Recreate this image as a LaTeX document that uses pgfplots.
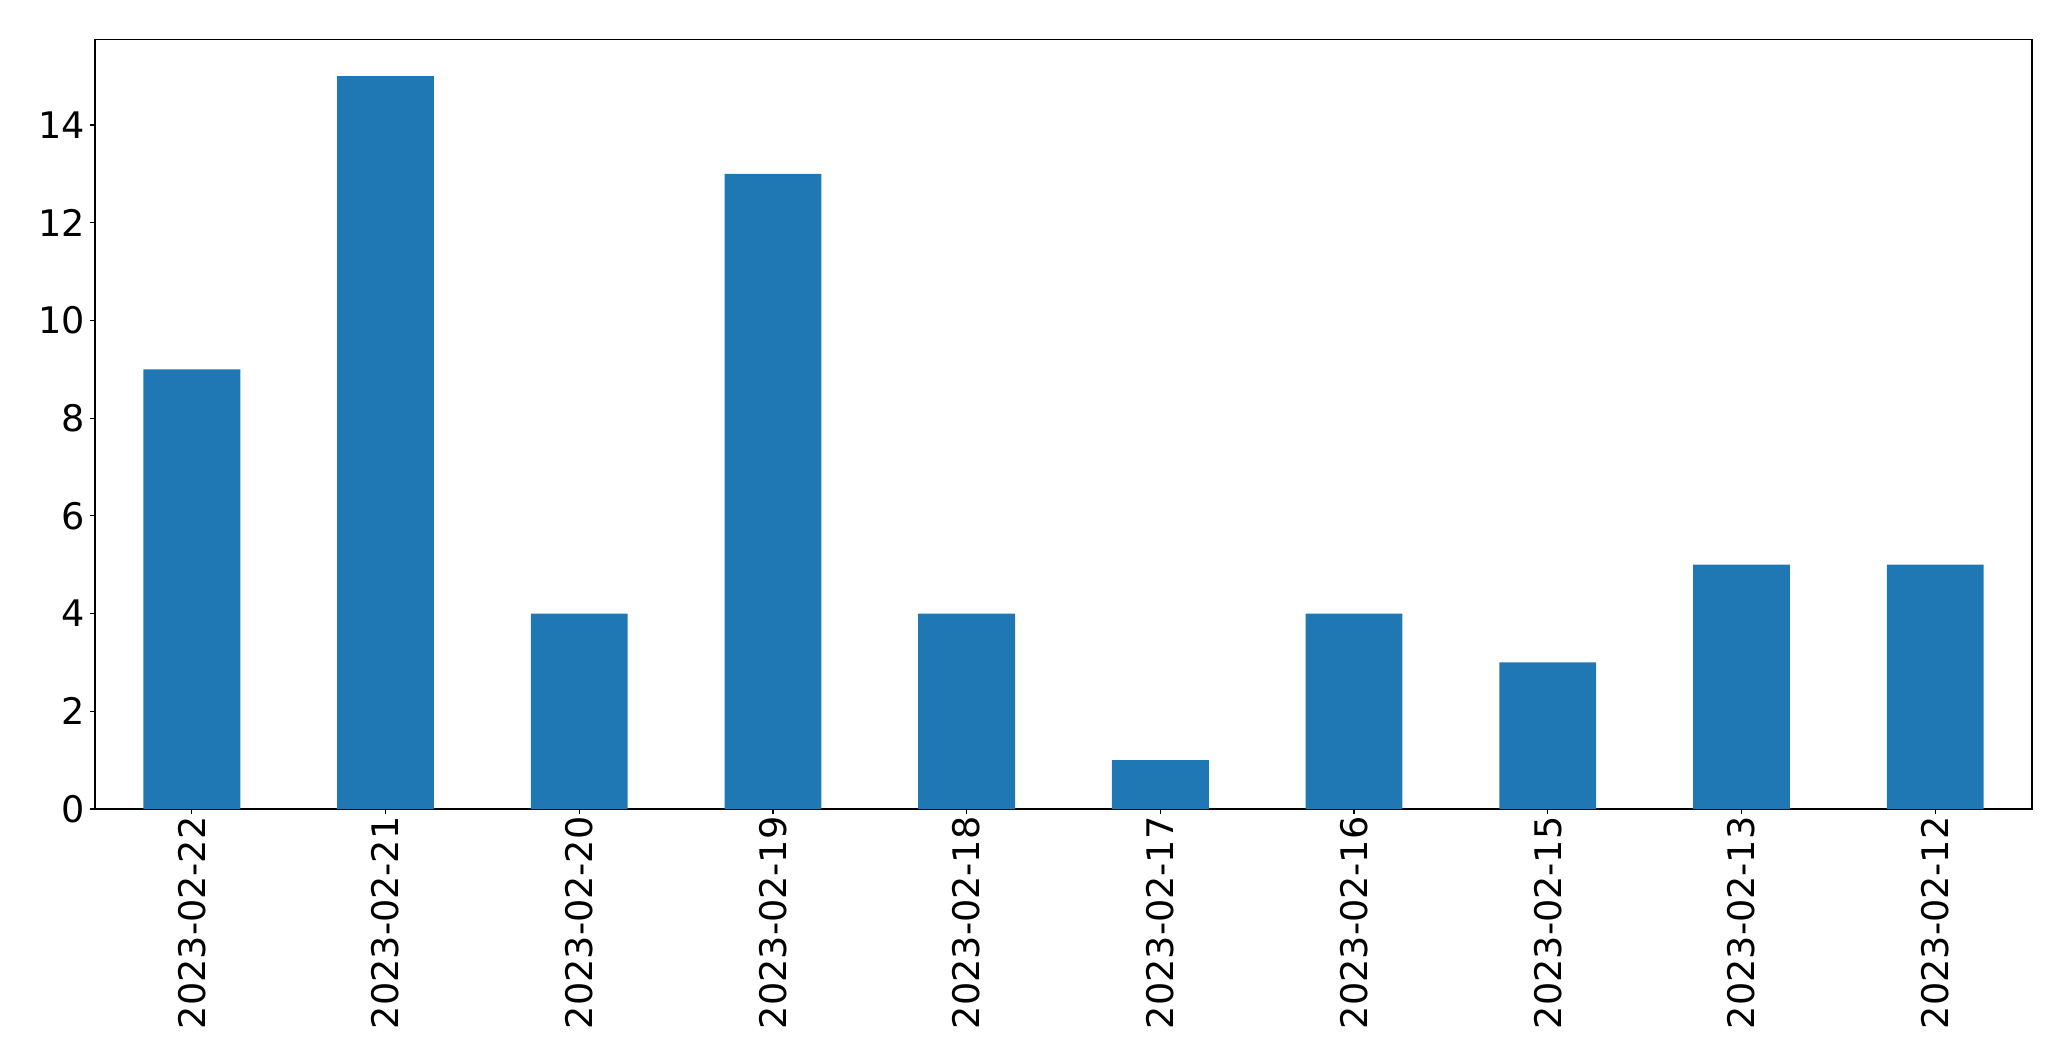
\documentclass[border=0pt]{standalone}
\usepackage{fontspec}
\setmainfont{DejaVu Sans}
\usepackage{pgfplots}
\pgfplotsset{compat=1.18}
\definecolor{mplblue}{HTML}{1F77B4}
\begin{document}
\begin{tikzpicture}
\path[use as bounding box] (-47.5bp,-126bp) rectangle (988bp,404.5bp);
\begin{axis}[
  at={(0,0)}, anchor=south west,
  scale only axis,
  width=968.5bp, height=384.75bp,
  xmin=-0.5, xmax=9.5,
  ymin=0, ymax=15.75,
  xtick={0,...,9},
  xticklabels={2023-02-22,2023-02-21,2023-02-20,2023-02-19,2023-02-18,2023-02-17,2023-02-16,2023-02-15,2023-02-13,2023-02-12},
  ytick={0,2,...,14},
  tick align=outside,
  major tick length=2.5bp,
  xtick pos=bottom, ytick pos=left,
  axis line style={line width=0.6bp},
  every tick/.style={black, line width=0.6bp},
  /pgf/number format/assume math mode=true,
  tick label style={font=\fontsize{18.3bp}{22bp}\selectfont},
  xticklabel style={rotate=90, anchor=east, inner sep=0pt, xshift=-1bp},
  yticklabel style={anchor=east, inner sep=0pt, xshift=-2.5bp},
  ybar, bar width=0.5,
]
\addplot[fill=mplblue, draw=none] coordinates {
(0,9) (1,15) (2,4) (3,13) (4,4) (5,1) (6,4) (7,3) (8,5) (9,5)
};
\end{axis}
\end{tikzpicture}
\end{document}
